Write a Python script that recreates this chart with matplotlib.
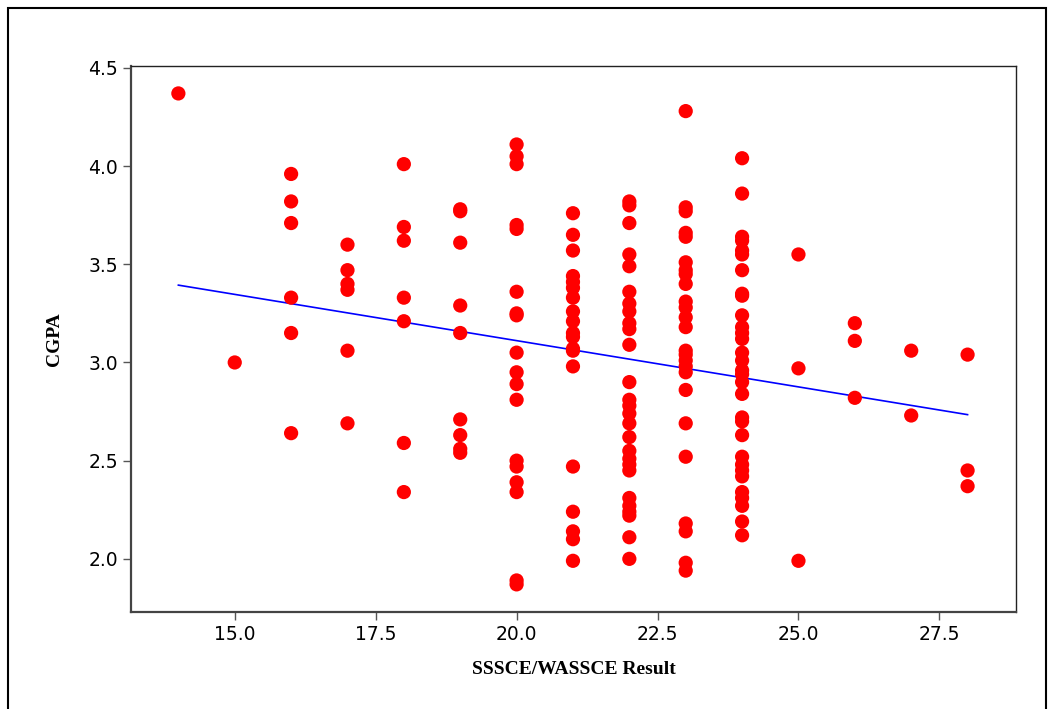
import numpy as np
import matplotlib.pyplot as plt
from matplotlib.patches import Rectangle

# SSSCE/WASSCE aggregate and CGPA, read column by column
x14 = [4.37]
x15 = [3.00]
x16 = [3.96, 3.82, 3.71, 3.33, 3.15, 2.64]
x17 = [3.60, 3.47, 3.40, 3.37, 3.06, 2.69]
x18 = [4.01, 3.69, 3.62, 3.33, 3.21, 2.59, 2.34]
x19 = [3.78, 3.77, 3.61, 3.29, 3.15, 2.71, 2.63, 2.56, 2.54]
x20 = [4.11, 4.05, 4.01, 3.70, 3.68, 3.36, 3.25, 3.24, 3.05, 2.95,
       2.89, 2.81, 2.50, 2.47, 2.39, 2.34, 1.89, 1.87]
x21 = [3.76, 3.65, 3.57, 3.44, 3.41, 3.38, 3.33, 3.26, 3.21, 3.15,
       3.13, 3.07, 3.06, 2.98, 2.47, 2.24, 2.14, 2.10, 1.99]
x22 = [3.82, 3.80, 3.71, 3.55, 3.49, 3.36, 3.30, 3.26, 3.20, 3.17,
       3.09, 2.90, 2.81, 2.78, 2.74, 2.69, 2.62, 2.55, 2.51, 2.48,
       2.45, 2.31, 2.27, 2.24, 2.22, 2.11, 2.00]
x23 = [4.28, 3.79, 3.77, 3.66, 3.64, 3.51, 3.47, 3.45, 3.40, 3.31,
       3.28, 3.23, 3.18, 3.06, 3.04, 3.01, 2.98, 2.95, 2.86, 2.69,
       2.52, 2.18, 2.14, 1.98, 1.94]
x24 = [4.04, 3.86, 3.64, 3.62, 3.57, 3.55, 3.47, 3.35, 3.34, 3.24,
       3.18, 3.15, 3.12, 3.05, 3.01, 2.96, 2.94, 2.90, 2.84, 2.72,
       2.70, 2.63, 2.52, 2.48, 2.45, 2.42, 2.34, 2.31, 2.27, 2.19, 2.12]
x25 = [3.55, 2.97, 1.99]
x26 = [3.20, 3.11, 2.82]
x27 = [3.06, 2.73]
x28 = [3.04, 2.45, 2.37]

columns = {14: x14, 15: x15, 16: x16, 17: x17, 18: x18, 19: x19, 20: x20,
           21: x21, 22: x22, 23: x23, 24: x24, 25: x25, 26: x26, 27: x27,
           28: x28}

xs = np.concatenate([[k] * len(v) for k, v in columns.items()]).astype(float)
ys = np.concatenate([v for v in columns.values()])

xticks = [15.0, 17.5, 20.0, 22.5, 25.0, 27.5]
yticks = [2.0, 2.5, 3.0, 3.5, 4.0, 4.5]

fig = plt.figure(figsize=(10.54, 7.09), dpi=100)
ax = fig.add_axes([0.1243, 0.137, 0.8397, 0.770])

ax.scatter(xs, ys, s=105, color="#ff0000", edgecolors="none", zorder=3)

# least squares line
slope, icpt = np.polyfit(xs, ys, 1)
lx = np.array([xs.min(), xs.max()])
ax.plot(lx, icpt + slope * lx, color="#0000ff", lw=1.2, zorder=2)

ax.set_xlim(13.16, 28.86)
ax.set_ylim(1.73, 4.51)
ax.set_xticks(xticks)
ax.set_yticks(yticks)
ax.set_xticklabels([f"{t:.1f}" for t in xticks], fontsize=13.5)
ax.set_yticklabels([f"{t:.1f}" for t in yticks], fontsize=13.5)
ax.tick_params(direction="out", length=6, width=1.0, color="#555555")

for side in ["left", "bottom"]:
    ax.spines[side].set_linewidth(1.6)
    ax.spines[side].set_color("#444444")
for side in ["top", "right"]:
    ax.spines[side].set_linewidth(1.0)
    ax.spines[side].set_color("#222222")

ax.set_xlabel("SSSCE/WASSCE Result", fontsize=14, fontweight="bold",
              family="Liberation Serif", labelpad=12)
ax.set_ylabel("CGPA", fontsize=14, fontweight="bold",
              family="Liberation Serif", labelpad=18)

# outer frame round the whole picture
fig.patches.append(Rectangle((8 / 1054, -0.05), 1038 / 1054, 1.05 - 8 / 709,
                             transform=fig.transFigure, fill=False,
                             edgecolor="black", lw=1.5))

fig.savefig("out.png", dpi=100)
